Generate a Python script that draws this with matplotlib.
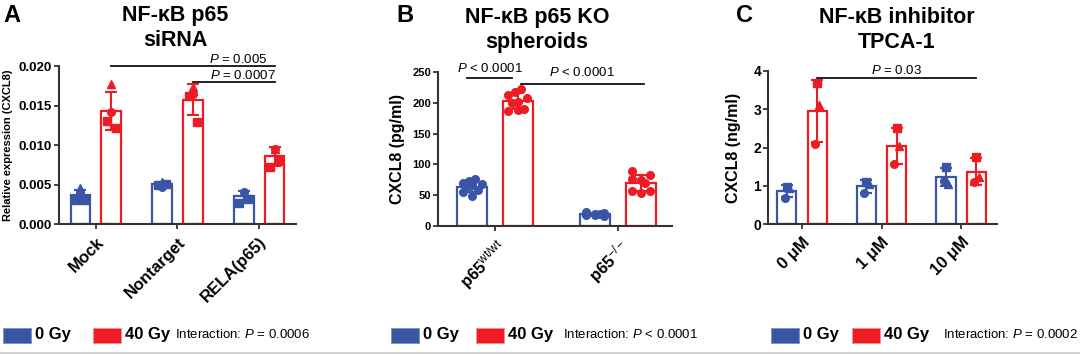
import numpy as np
import matplotlib
matplotlib.use("Agg")
import matplotlib.pyplot as plt
from matplotlib.patches import Rectangle
from matplotlib.lines import Line2D

plt.rcParams['font.family'] = ['Liberation Sans', 'DejaVu Sans']
plt.rcParams['mathtext.fontset'] = 'custom'
plt.rcParams['mathtext.rm'] = 'Liberation Sans'
plt.rcParams['mathtext.it'] = 'Liberation Sans:italic'
plt.rcParams['mathtext.bf'] = 'Liberation Sans:bold'

BLUE = '#3A55A6'
RED = '#ED1C24'
AXC = '#333333'

# ---------------- Data ----------------
# Panel A: Relative expression (CXCL8)
a_categories = ['Mock', 'Nontarget', 'RELA(p65)']
a_0gy = [[0.0045, 0.0039, 0.0030, 0.0031],
         [0.0053, 0.0047, 0.0050, 0.0051],
         [0.0041, 0.0041, 0.0026, 0.0032]]
a_40gy = [[0.0177, 0.0142, 0.0130, 0.0122],
          [0.0174, 0.0165, 0.0162, 0.0129],
          [0.0095, 0.0095, 0.0072, 0.0080]]
a_yticks = [0.000, 0.005, 0.010, 0.015, 0.020]
a_ytick_labels = ['0.000', '0.005', '0.010', '0.015', '0.020']

# Panel B: CXCL8 (pg/ml)
b_categories = ['$\\mathbf{p65}^{\\mathrm{wt/wt}}$', '$\\mathbf{p65}^{\\mathrm{-/-}}$']
b_0gy = [[76, 73, 70, 68, 66, 62, 58, 55, 48],
         [22, 21, 20, 19, 19, 18, 18, 17]]
b_40gy = [[222, 217, 213, 208, 201, 199, 190, 186, 189],
          [89, 82, 76, 74, 69, 57, 53, 56]]
b_yticks = [0, 50, 100, 150, 200, 250]

# Panel C: CXCL8 (ng/ml)
c_categories = ['0 \u03bcM', '1 \u03bcM', '10 \u03bcM']
c_0gy = [[0.98, 0.93, 0.67],
         [1.11, 1.04, 0.80],
         [1.50, 1.05, 1.13]]
c_40gy = [[3.68, 3.11, 2.08],
          [2.52, 2.04, 1.56],
          [1.76, 1.24, 1.11]]
c_yticks = [0, 1, 2, 3, 4]

# horizontal spread of replicate points (fraction of bar width), layout only
SPREAD = {
    3: [0.0, 0.12, -0.12],
    4: [0.0, 0.0, -0.22, 0.22],
    8: [-0.3, 0.3, -0.3, 0.0, 0.15, -0.3, 0.0, 0.3],
    9: [0.1, -0.1, -0.32, 0.32, 0.0, -0.2, 0.2, -0.32, 0.0],
}

fig = plt.figure(figsize=(10.8, 3.55), dpi=100)

def draw_panel(rect, cats, g0, g40, xlim, ylim, yticks, yticklabels, offset, width,
               markers, tick_fs, ylabel, ylabel_fs, ylabel_pad, msize):
    ax = fig.add_axes(rect)
    x = np.arange(len(cats))
    for grp, color, sign in ((g0, BLUE, -1), (g40, RED, 1)):
        for i, vals in enumerate(grp):
            vals = np.array(vals)
            m = vals.mean()
            sd = vals.std(ddof=1)
            cx = x[i] + sign * offset
            ax.bar(cx, m, width=width, facecolor='white', edgecolor=color,
                   linewidth=1.6, zorder=2)
            jit = np.array(SPREAD[len(vals)]) * width
            for k, v in enumerate(vals):
                ax.plot(cx + jit[k], v, marker=markers[k % len(markers)], color=color,
                        markersize=msize, linestyle='none', zorder=3)
            ax.errorbar(cx, m, yerr=sd, color=color, capsize=4, elinewidth=1.5,
                        capthick=1.5, zorder=4)
    ax.set_xlim(*xlim)
    ax.set_ylim(*ylim)
    ax.set_yticks(yticks)
    ax.set_yticklabels(yticklabels, fontsize=tick_fs, fontweight='bold')
    ax.set_xticks(x)
    ax.set_xticklabels(cats, rotation=45, ha='right', rotation_mode='anchor',
                       fontsize=12, fontweight='bold')
    for s in ('top', 'right'):
        ax.spines[s].set_visible(False)
    for s in ('left', 'bottom'):
        ax.spines[s].set_color(AXC)
        ax.spines[s].set_linewidth(1.5)
    ax.tick_params(axis='both', direction='out', length=3.5, width=1.3, color=AXC)
    ax.tick_params(axis='y', pad=1.5)
    ax.tick_params(axis='x', pad=4)
    ax.set_ylabel(ylabel, fontsize=ylabel_fs, fontweight='bold', labelpad=ylabel_pad)
    ax.spines['left'].set_bounds(ylim[0], yticks[-1])
    return ax

axA = draw_panel([0.0546, 0.369, 0.2195, 0.445], a_categories, a_0gy, a_40gy,
                 (-0.454, 2.454), (0, 0.020), a_yticks, a_ytick_labels, 0.19, 0.245,
                 ['^', 'o', 's', 's'], 9.5, 'Relative expression (CXCL8)', 8, 4, 5.5)
axB = draw_panel([0.4056, 0.3634, 0.2166, 0.4338], b_categories, b_0gy, b_40gy,
                 (-0.463, 1.439), (0, 250), b_yticks, [str(t) for t in b_yticks], 0.185, 0.244,
                 ['o'], 8, 'CXCL8 (pg/ml)', 11.5, 5, 5.5)
axC = draw_panel([0.7111, 0.369, 0.212, 0.431], c_categories, c_0gy, c_40gy,
                 (-0.428, 2.45), (0, 4), c_yticks, [str(t) for t in c_yticks], 0.19, 0.24,
                 ['s', '^', 'o'], 10, 'CXCL8 (ng/ml)', 11.5, 9, 5.5)

# significance bars
def sig(ax, x1, x2, y, text, tx=None, ha='center', dy=0.0):
    ax.plot([x1, x2], [y, y], color='#111111', linewidth=1.3, clip_on=False, zorder=5)
    if tx is None:
        tx = (x1 + x2) / 2
    ax.text(tx, y + dy, text, ha=ha, va='bottom', fontsize=9.5, clip_on=False)

sig(axA, 0.19, 2.2, 0.0200, '$\\mathit{P}$ = 0.005', tx=2.1, ha='right', dy=0.0)
sig(axA, 1.19, 2.2, 0.0180, '$\\mathit{P}$ = 0.0007', tx=2.2, ha='right', dy=0.0)
sig(axB, -0.23, 0.14, 240, '$\\mathit{P}$ < 0.0001', dy=5)
sig(axB, 0.21, 1.21, 230, '$\\mathit{P}$ < 0.0001', dy=8)
sig(axC, 0.19, 2.19, 3.82, '$\\mathit{P}$ = 0.03', dy=0.02)

# titles and panel letters
TITLE_FS = 15.5
fig.text(175 / 1080, 1 - 28 / 355, 'NF-\u03baB p65\nsiRNA', ha='center', va='center',
         fontsize=TITLE_FS, fontweight='bold', linespacing=1.2)
fig.text(537 / 1080, 1 - 30 / 355, 'NF-\u03baB p65 KO\nspheroids', ha='center', va='center',
         fontsize=TITLE_FS, fontweight='bold', linespacing=1.2)
fig.text(897 / 1080, 1 - 30 / 355, 'NF-\u03baB inhibitor\nTPCA-1', ha='center', va='center',
         fontsize=TITLE_FS, fontweight='bold', linespacing=1.2)
fig.text(3 / 1080, 1 - 15 / 355, 'A', ha='left', va='center', fontsize=17, fontweight='bold')
fig.text(396 / 1080, 1 - 15 / 355, 'B', ha='left', va='center', fontsize=17, fontweight='bold')
fig.text(736 / 1080, 1 - 15 / 355, 'C', ha='left', va='center', fontsize=17, fontweight='bold')

# legends
def legend(x0, xred, interaction_x, text):
    yc = 1 - 335 / 355
    h = 15 / 355
    w = 28 / 1080
    fig.patches.append(Rectangle((x0 / 1080, yc - h / 2), w, h, transform=fig.transFigure,
                                 facecolor=BLUE, edgecolor='#7d8fc6', linewidth=0.6))
    fig.text((x0 + 32) / 1080, yc, '0 Gy', ha='left', va='center', fontsize=12, fontweight='bold')
    fig.patches.append(Rectangle((xred / 1080, yc - h / 2), w, h, transform=fig.transFigure,
                                 facecolor=RED, edgecolor='#f28c8f', linewidth=0.6))
    fig.text((xred + 32) / 1080, yc, '40 Gy', ha='left', va='center', fontsize=12, fontweight='bold')
    fig.text(interaction_x / 1080, yc, text, ha='left', va='center', fontsize=9.5)

legend(3, 93, 175, 'Interaction: $\\mathit{P}$ = 0.0006')
legend(391, 476, 563, 'Interaction: $\\mathit{P}$ < 0.0001')
legend(771, 852, 943, 'Interaction: $\\mathit{P}$ = 0.0002')

# bottom rule
fig.add_artist(Line2D([0, 1], [1 - 353 / 355, 1 - 353 / 355], transform=fig.transFigure,
                      color='#c8c8c8', linewidth=1.2))

fig.savefig('out.png', dpi=100)
